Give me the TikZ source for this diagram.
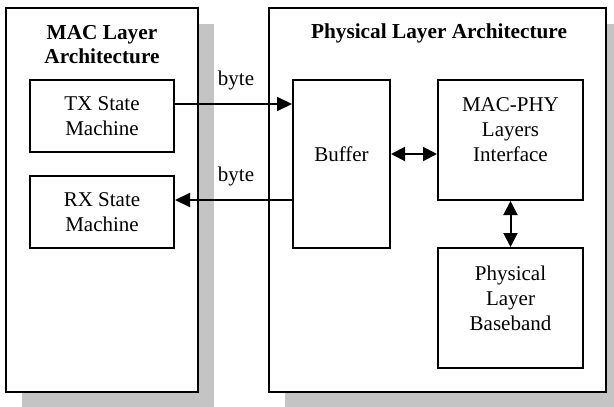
\documentclass[tikz,border=0pt]{standalone}
\usepackage{fontspec}
\setmainfont{Liberation Serif}
\usetikzlibrary{arrows.meta}
\definecolor{shadowgray}{HTML}{C4C4C4}
\begin{document}
\begin{tikzpicture}[x=1pt,y=-1pt,
  frame/.style={draw=black,line width=2pt,fill=white,inner sep=0pt},
  shadowbox/.style={fill=shadowgray,draw=none,inner sep=0pt},
  txt/.style={font=\fontsize{21}{25}\selectfont,align=center,inner sep=0pt},
  ttl/.style={font=\fontsize{21.3}{24}\selectfont\bfseries,align=center,inner sep=0pt},
  arr/.style={line width=2pt,-{Triangle[length=15pt,width=14pt]}},
  biarr/.style={line width=2pt,{Triangle[length=14pt,width=14pt]}-{Triangle[length=14pt,width=14pt]}}]
\useasboundingbox (0,0) rectangle (614,407);
\clip (0,0) rectangle (614,407);
\fill[white] (0,0) rectangle (614,407);
% shadows
\node[shadowbox,minimum width=192pt,minimum height=384pt] (lsh) at (118,216) {};
\node[shadowbox,minimum width=337pt,minimum height=384pt] (rsh) at (453.5,216) {};
% big frames
\node[frame,minimum width=192pt,minimum height=384pt] (mac) at (102,200) {};
\node[frame,minimum width=337pt,minimum height=384pt] (phy) at (437.5,200) {};
\node[ttl] (macttl) at (102,45) {MAC Layer\\Architecture};
\node[ttl] (phyttl) at (439,33) {Physical Layer Architecture};
% inner boxes
\node[frame,minimum width=144pt,minimum height=72pt] (tx) at (102,116) {};
\node[txt] (txt1) at (tx.center) {TX State\\Machine};
\node[frame,minimum width=144pt,minimum height=72pt] (rx) at (102,212) {};
\node[txt] (txt2) at (rx.center) {RX State\\Machine};
\node[frame,minimum width=97pt,minimum height=168pt] (buf) at (341.5,164) {};
\node[txt] (txt3) at ([yshift=10pt]buf.center) {Buffer};
\node[frame,minimum width=145pt,minimum height=120pt] (mp) at (510.5,140) {};
\node[txt] (txt4) at ([yshift=10pt]mp.center) {MAC-PHY\\Layers\\Interface};
\node[frame,minimum width=145pt,minimum height=120pt] (plb) at (510.5,308) {};
\node[txt] (txt5) at ([yshift=10pt]plb.center) {Physical\\Layer\\Baseband};
% connectors
\draw[arr] ([yshift=12pt]tx.east) -- ([yshift=12pt]tx.east -| buf.west);
\draw[arr] ([yshift=12pt]rx.east -| buf.west) -- ([yshift=12pt]rx.east);
\draw[biarr] ([yshift=10pt]buf.east) -- ([yshift=10pt]buf.east -| mp.west);
\draw[biarr] (mp.south) -- (plb.north);
\node[txt] (b1) at (236,80) {byte};
\node[txt] (b2) at (236,176) {byte};
\end{tikzpicture}
\end{document}
